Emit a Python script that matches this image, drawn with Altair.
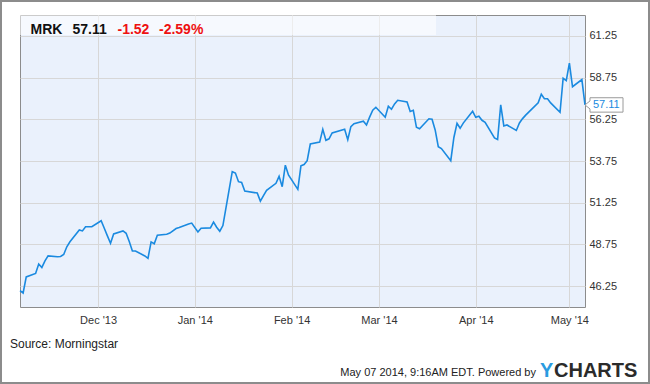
import altair as alt
import pandas as pd

# ---------------- data ----------------
dates = [
    "2013-11-06", "2013-11-07", "2013-11-08", "2013-11-11", "2013-11-12", "2013-11-13",
    "2013-11-14", "2013-11-15", "2013-11-18", "2013-11-19", "2013-11-20", "2013-11-21",
    "2013-11-22", "2013-11-25", "2013-11-26", "2013-11-27", "2013-11-29",
    "2013-12-02", "2013-12-03", "2013-12-04", "2013-12-05", "2013-12-06", "2013-12-09",
    "2013-12-10", "2013-12-11", "2013-12-12", "2013-12-13", "2013-12-16", "2013-12-17",
    "2013-12-18", "2013-12-19", "2013-12-20", "2013-12-23", "2013-12-24", "2013-12-26",
    "2013-12-27", "2013-12-30", "2013-12-31",
    "2014-01-02", "2014-01-03", "2014-01-06", "2014-01-07", "2014-01-08", "2014-01-09",
    "2014-01-10", "2014-01-13", "2014-01-14", "2014-01-15", "2014-01-16", "2014-01-17",
    "2014-01-21", "2014-01-22", "2014-01-23", "2014-01-24", "2014-01-27", "2014-01-28",
    "2014-01-29", "2014-01-30", "2014-01-31",
    "2014-02-03", "2014-02-04", "2014-02-05", "2014-02-06", "2014-02-07", "2014-02-10",
    "2014-02-11", "2014-02-12", "2014-02-13", "2014-02-14", "2014-02-18", "2014-02-19",
    "2014-02-20", "2014-02-21", "2014-02-24", "2014-02-25", "2014-02-26", "2014-02-27",
    "2014-02-28",
    "2014-03-03", "2014-03-04", "2014-03-05", "2014-03-06", "2014-03-07", "2014-03-10",
    "2014-03-11", "2014-03-12", "2014-03-13", "2014-03-14", "2014-03-17", "2014-03-18",
    "2014-03-19", "2014-03-20", "2014-03-21", "2014-03-24", "2014-03-25", "2014-03-26",
    "2014-03-27", "2014-03-28", "2014-03-31",
    "2014-04-01", "2014-04-02", "2014-04-03", "2014-04-04", "2014-04-07", "2014-04-08",
    "2014-04-09", "2014-04-10", "2014-04-11", "2014-04-14", "2014-04-15", "2014-04-16",
    "2014-04-17", "2014-04-21", "2014-04-22", "2014-04-23", "2014-04-24", "2014-04-25",
    "2014-04-28", "2014-04-29", "2014-04-30",
    "2014-05-01", "2014-05-02", "2014-05-05", "2014-05-06",
]
prices = [
    45.98, 45.84, 46.80, 47.01, 47.58, 47.37,
    47.76, 48.06, 48.01, 48.03, 48.15, 48.61,
    48.91, 49.62, 49.56, 49.81, 49.81,
    50.17, 49.72, 49.26, 48.82, 49.38, 49.56,
    49.42, 48.92, 48.36, 48.36, 48.06, 47.92,
    48.90, 48.79, 49.30, 49.36, 49.43, 49.70,
    49.76, 49.98, 50.03,
    49.50, 49.72, 49.74, 50.09, 49.78, 49.54,
    49.88, 53.11, 53.03, 52.51, 52.46, 51.95,
    51.83, 51.35, 51.68, 51.99, 52.41, 52.83,
    52.21, 53.50, 52.91,
    52.05, 53.46, 53.54, 53.77, 54.77, 54.88,
    55.65, 54.99, 55.08, 55.43, 55.65, 55.03,
    55.81, 55.99, 56.14, 55.91, 56.38, 56.80,
    56.97,
    56.37, 57.03, 56.85, 57.17, 57.39, 57.29,
    56.72, 56.79, 55.77, 55.68, 56.28, 56.25,
    55.61, 54.61, 54.50, 53.77, 55.16, 56.01,
    55.71, 56.02, 56.73,
    56.37, 56.43, 56.19, 56.07, 55.13, 55.04,
    57.11, 55.85, 55.91, 55.58, 56.03, 56.29,
    56.50, 57.24, 57.75, 57.48, 57.48, 57.23,
    56.67, 58.71, 58.57,
    59.61, 58.20, 58.63, 57.11,
]

ticker = "MRK"
last_price = "57.11"
change = "-1.52"
pct_change = "-2.59%"
source_text = "Source: Morningstar"
stamp_text = "May 07 2014, 9:16AM EDT. Powered by"
brand_y = "Y"
brand_rest = "CHARTS"

y_ticks = [46.25, 48.75, 51.25, 53.75, 56.25, 58.75, 61.25]
y_domain = [45.0, 62.5]
month_ticks = ["2013-12-01", "2014-01-01", "2014-02-01", "2014-03-01", "2014-04-01", "2014-05-01"]
x_domain = ["2013-11-06", "2014-05-06"]


def to_ms(s):
    return int(pd.Timestamp(s).value // 10**6)


month_ms = [to_ms(m) for m in month_ticks]
x_domain_ms = [to_ms(d) for d in x_domain]

df = pd.DataFrame({"date": dates, "price": prices})
last_df = df.iloc[[-1]].reset_index(drop=True)

FONT = "Liberation Sans"
BLUE = "#1a8ae0"

x_enc = alt.X(
    "date:T",
    scale=alt.Scale(type="utc", domain=x_domain_ms),
    axis=alt.Axis(
        values=month_ms, labelExpr="utcFormat(datum.value, \"%b '%y\")", title=None,
        grid=True, gridColor="#d7d7d7", ticks=False, domain=False,
        labelPadding=7, labelFontSize=11, labelFont=FONT, labelColor="#333333",
        labelFlush=False,
    ),
)
y_enc = alt.Y(
    "price:Q",
    scale=alt.Scale(domain=y_domain, nice=False, zero=False),
    axis=alt.Axis(
        orient="right", values=y_ticks, format=".2f", title=None,
        grid=True, gridColor="#d7d7d7", ticks=False, domain=False,
        labelPadding=4, labelFontSize=11, labelFont=FONT, labelColor="#333333",
    ),
)

one = pd.DataFrame({"k": [0]})

header = alt.Chart(one).mark_rect(fill="white", opacity=0.55).encode(
    x=alt.value(0), x2=alt.value(416), y=alt.value(0), y2=alt.value(20)
)

line = alt.Chart(df).mark_line(color=BLUE, strokeWidth=1.6).encode(x=x_enc, y=y_enc)

callout_path = "M0,0 L0.263,-0.21 L0.263,-0.379 L2,-0.379 L2,0.379 L0.263,0.379 L0.263,0.21 Z"
callout = alt.Chart(last_df).mark_point(
    shape=callout_path, size=1444, filled=True, fill="white", fillOpacity=1,
    stroke="#9a9a9a", strokeWidth=1, strokeOpacity=1, opacity=1,
).encode(x="date:T", y="price:Q")

callout_text = alt.Chart(last_df).mark_text(
    align="left", baseline="middle", dx=8, dy=0.5, fontSize=11, font=FONT, color=BLUE
).encode(x="date:T", y="price:Q", text=alt.Text("price:Q", format=".2f"))


def label(text, x, y, size, color, weight="normal", align="left"):
    return alt.Chart(one).mark_text(
        text=text, align=align, baseline="alphabetic", fontSize=size,
        font=FONT, fontWeight=weight, color=color,
    ).encode(x=alt.value(x), y=alt.value(y))


t1 = label(ticker, 10.5, 18.5, 14, "#111111", "bold")
t2 = label(last_price, 52.5, 18.5, 14, "#111111", "bold")
t3 = label(change, 97.5, 18.5, 14, "#ee1111", "bold")
t4 = label(pct_change, 139, 18.5, 14, "#ee1111", "bold")
src = label(source_text, -10, 332.5, 12, "#222222")
stamp = label(stamp_text, 516, 361, 11, "#222222", align="right")
b1 = label(brand_y, 520, 361.5, 20, "#2a9be0", "bold")
b2 = label(brand_rest, 534, 361.5, 20, "#2b2b2b", "bold")

frame = alt.Chart(one).mark_rect(
    fillOpacity=0, stroke="#8c8c8c", strokeWidth=2
).encode(x=alt.value(-19), x2=alt.value(629), y=alt.value(-14), y2=alt.value(368))

chart = alt.layer(
    header, line, callout, callout_text, t1, t2, t3, t4, src, stamp, b1, b2, frame
).properties(
    width=565, height=292,
    autosize=alt.AutoSizeParams(type="none"),
    padding={"left": 20, "top": 15, "right": 65, "bottom": 77},
).configure(background="white").configure_view(
    fill="#eaf1fc", stroke="#8c8c8c", strokeWidth=1
)

chart.save("out.html", embed_options={"renderer": "svg", "actions": False})
